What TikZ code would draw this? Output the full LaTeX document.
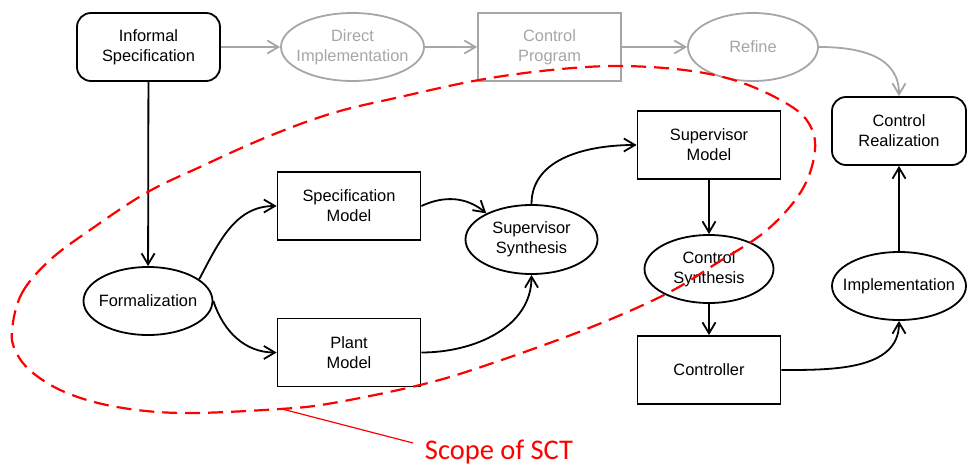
\documentclass[tikz,border=0pt]{standalone}
\usepackage{fontspec}
\setmainfont{Liberation Sans}
\newfontfamily\scopefont{Carlito}
\usetikzlibrary{shapes.geometric,arrows.meta}
\definecolor{lgray}{RGB}{166,166,166}
\definecolor{sred}{RGB}{255,0,0}
\begin{document}
\begin{tikzpicture}[x=1pt,y=-1pt,
  every node/.style={font=\fontsize{16.4}{20}\selectfont, align=center, inner sep=0pt},
  boxn/.style={draw, line width=1.8pt, minimum width=143pt, minimum height=68pt},
  rbox/.style={boxn, rounded corners=14pt},
  elln/.style={draw, ellipse, line width=1.8pt, inner sep=-40pt, minimum width=130pt, minimum height=68pt},
  grayn/.style={draw=lgray, text=lgray},
  arr/.style={line width=1.8pt, -{Straight Barb[length=11pt,width=13pt,line width=1.8pt]}},
  garr/.style={arr, draw=lgray},
  scopeline/.style={draw=sred, line width=2.2pt, dash pattern=on 15pt off 8pt}
]
\useasboundingbox (0,0) rectangle (968,465);

\node[rbox] (inf) at (148.5,47) {Informal\\Specification};
\node[elln, grayn, minimum width=143pt] (dir) at (352.5,47) {Direct\\Implementation};
\node[boxn, grayn] (cp) at (549.5,47) {Control\\Program};
\node[elln, grayn] (ref) at (753,47) {Refine};
\node[rbox, minimum width=134pt] (cr) at (899,131) {Control\\Realization};

\node[boxn] (spec) at (349,206) {Specification\\Model};
\node[boxn] (plant) at (349,352.5) {Plant\\Model};
\node[elln, minimum width=129pt] (form) at (148,301) {Formalization};
\node[elln, minimum width=132pt, minimum height=69pt] (ss) at (531.5,239.5) {Supervisor\\Synthesis};
\node[boxn] (sm) at (709,145) {Supervisor\\Model};
\node[elln, minimum width=129pt] (cs) at (709,269) {Control\\Synthesis};
\node[boxn] (ctl) at (709,370) {Controller};
\node[elln, minimum width=134pt] (imp) at (899,286) {Implementation};

\draw[garr] (inf) -- (dir);
\draw[garr] (dir) -- (cp);
\draw[garr] (cp) -- (ref);
\draw[garr] (ref.east) to[out=0,in=90,looseness=1.1] (cr.north);

\draw[arr] (inf) -- (form);
\draw[arr] (form.23) to[out=62,in=180] (spec.west);
\draw[arr] (form.east) to[out=-72,in=180] (plant.west);
\draw[arr] (spec.east) to[out=25,in=140] (ss.150);
\draw[arr] (plant.east) to[out=0,in=-90] (ss.south);
\draw[arr] (ss.north) to[out=90,in=180] (sm.west);
\draw[arr] (sm) -- (cs);
\draw[arr] (cs) -- (ctl);
\draw[arr] (ctl.east) to[out=0,in=-90] (imp.south);
\draw[arr] (imp) -- (cr);

\draw[scopeline] plot[smooth cycle, tension=0.6] coordinates {
 (12,330) (22,293) (50,260) (90,230) (146,193) (200,167) (267,137) (333,113)
 (400,97) (479,80) (551,70) (617,66) (684,70) (737,81) (784,102) (808,122)
 (815,150) (802,190) (767,230) (717,263) (664,295) (584,330) (484,366)
 (420,385) (333,403) (280,409) (183,413) (117,407) (67,393) (33,373) (16,352)};

\coordinate (lead) at (282,409);
\coordinate (leadend) at (413,443);
\node[font=\scopefont\fontsize{28.5}{30}\selectfont, text=sred, anchor=base] (scope) at (499,459.5) {Scope of SCT};
\draw[sred, line width=1.2pt] (lead) -- (leadend);
\end{tikzpicture}
\end{document}
